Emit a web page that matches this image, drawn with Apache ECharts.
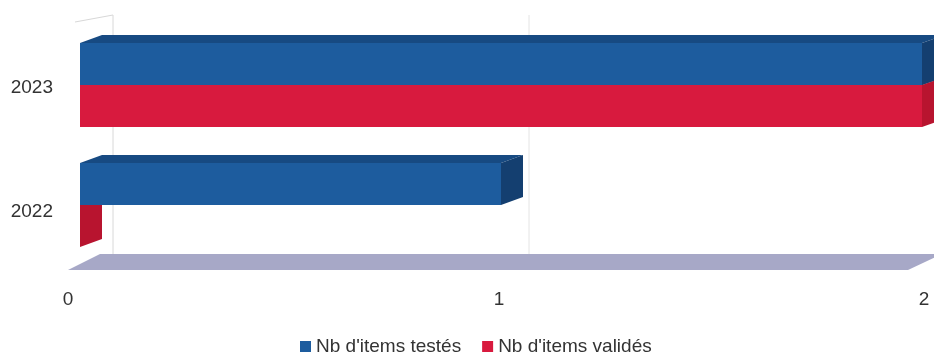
<!DOCTYPE html>
<html>
<head>
<meta charset="utf-8">
<script src="https://cdn.jsdelivr.net/npm/echarts@6/dist/echarts.min.js"></script>
<style>html,body{margin:0;padding:0;background:#fff}#c{width:934px;height:356px}</style>
</head>
<body>
<div id="c"></div>
<script>
var categories = ['2022', '2023'];
var seriesNames = ["Nb d'items testés", "Nb d'items validés"];
var testes = [1, 2];
var valides = [0, 2];
var xTicks = [0, 1, 2];

var FONT = '"Liberation Sans", Arial, sans-serif';
var DX = 22, DY = 8;
var palette = [
  {front: '#1d5c9e', top: '#174a82', side: '#143f70'},
  {front: '#d81a3e', top: '#b5142f', side: '#b8142f'}
];

function barRender(slot) {
  return function (params, api) {
    var val = api.value(0), cat = api.value(1);
    var p0 = api.coord([0, cat]);
    var p1 = api.coord([val, cat]);
    var band = api.size([0, 1])[1];
    var h = band * 0.35;
    var y0 = p0[1] - h + slot * h;
    var x0 = p0[0], x1 = p1[0];
    var c = palette[slot];
    var children = [];
    children.push({type: 'polygon', shape: {points: [[x0, y0], [x1, y0], [x1 + DX, y0 - DY], [x0 + DX, y0 - DY]]}, style: {fill: c.top}});
    children.push({type: 'polygon', shape: {points: [[x1, y0], [x1 + DX, y0 - DY], [x1 + DX, y0 + h - DY], [x1, y0 + h]]}, style: {fill: c.side}});
    if (x1 > x0) children.push({type: 'rect', shape: {x: x0, y: y0, width: x1 - x0, height: h}, style: {fill: c.front}});
    return {type: 'group', children: children};
  };
}

function floorRender(params, api) {
  var cs = params.coordSys;
  var x0 = cs.x, x1 = cs.x + cs.width, top = cs.y, bot = cs.y + cs.height;
  var children = [];
  var wallLine = {stroke: '#d8d8d8', lineWidth: 1};
  children.push({type: 'line', shape: {x1: x0 + 33, y1: top - 10, x2: x0 + 33, y2: bot - 11}, style: wallLine});
  children.push({type: 'line', shape: {x1: x0 - 5, y1: top - 3, x2: x0 + 33, y2: top - 10}, style: wallLine});
  for (var i = 1; i < xTicks.length - 1; i++) {
    var px = api.coord([xTicks[i], 0])[0];
    children.push({type: 'line', shape: {x1: px + 28, y1: top - 10, x2: px + 28, y2: bot - 11}, style: {stroke: '#e4e4e4', lineWidth: 1}});
  }
  children.push({type: 'polygon', shape: {points: [[x0 - 12, bot + 5], [x1 - 14, bot + 5], [x1 + 20, bot - 11], [x0 + 20, bot - 11]]}, style: {fill: '#a7a8c7'}});
  return {type: 'group', children: children};
}

function toData(arr) { return arr.map(function (v, i) { return [v, i]; }); }

var chart = echarts.init(document.getElementById('c'), null, {renderer: 'canvas'});
chart.setOption({
  backgroundColor: '#ffffff',
  animation: false,
  grid: {left: 80, right: 12, top: 25, bottom: 91, containLabel: false},
  xAxis: {
    type: 'value', min: 0, max: 2, interval: 1,
    axisLine: {show: false}, axisTick: {show: false}, splitLine: {show: false},
    axisLabel: {
      margin: 25, fontSize: 19, color: '#333', fontFamily: FONT,
      formatter: function (v) { return '{t' + v + '|' + v + '}'; },
      rich: {
        t0: {fontSize: 19, color: '#333', fontFamily: FONT, padding: [0, 24, 0, 0]},
        t1: {fontSize: 19, color: '#333', fontFamily: FONT, padding: [0, 4, 0, 0]},
        t2: {fontSize: 19, color: '#333', fontFamily: FONT, padding: [0, 0, 0, 4]}
      }
    }
  },
  yAxis: {
    type: 'category', data: categories,
    axisLine: {show: false}, axisTick: {show: false},
    axisLabel: {
      margin: 27, fontSize: 19, color: '#333', fontFamily: FONT,
      formatter: function (v) { return '{y' + v + '|' + v + '}'; },
      rich: {
        y2023: {fontSize: 19, color: '#333', fontFamily: FONT, padding: [6, 0, 0, 0]},
        y2022: {fontSize: 19, color: '#333', fontFamily: FONT, padding: [14, 0, 0, 0]}
      }
    }
  },
  legend: {
    data: seriesNames, left: 295, top: 332,
    itemWidth: 11, itemHeight: 11, itemGap: 21, icon: 'rect',
    textStyle: {fontSize: 19, color: '#333', fontFamily: FONT}
  },
  series: [
    {type: 'custom', name: 'floor', silent: true, z: 1, renderItem: floorRender, data: [[0, 0]], encode: {x: 0, y: 1}},
    {type: 'custom', name: seriesNames[1], z: 2, color: palette[1].front, renderItem: barRender(1), data: toData(valides), encode: {x: 0, y: 1}},
    {type: 'custom', name: seriesNames[0], z: 3, color: palette[0].front, renderItem: barRender(0), data: toData(testes), encode: {x: 0, y: 1}}
  ]
});
</script>
</body>
</html>
